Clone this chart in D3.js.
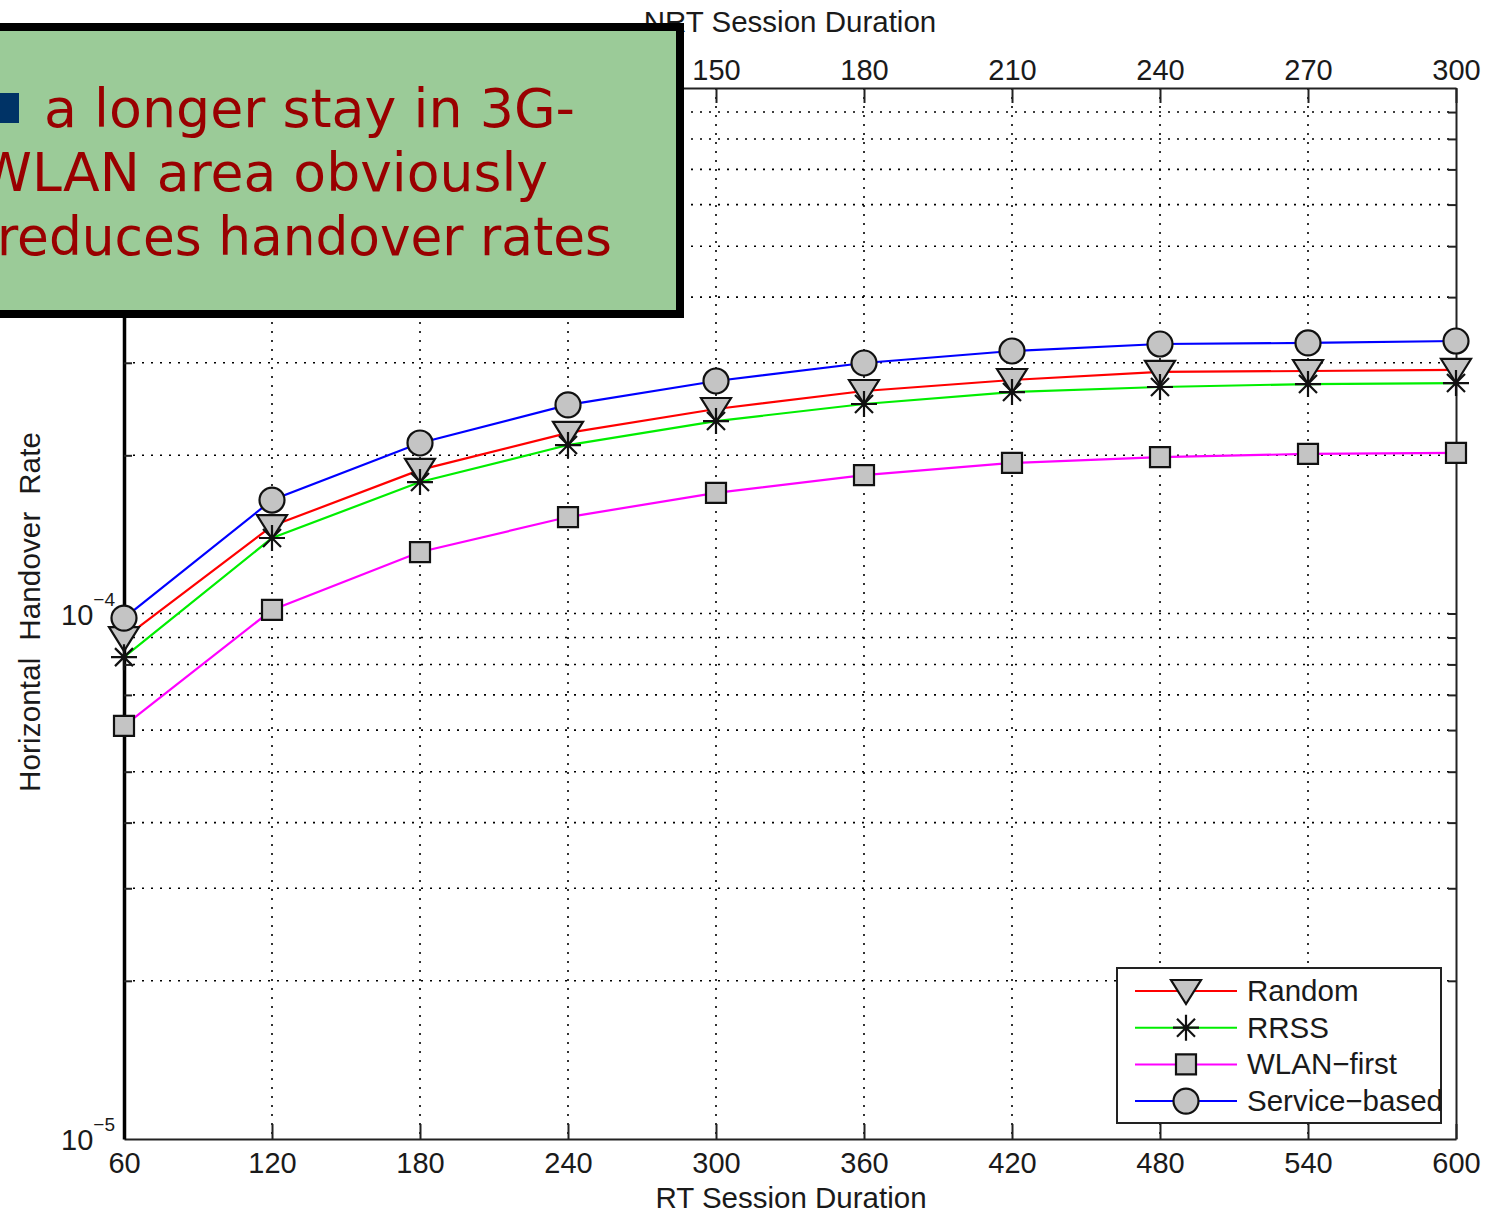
<!DOCTYPE html>
<html>
<head>
<meta charset="utf-8">
<script src="https://cdn.jsdelivr.net/npm/d3@7"></script>
<style>
  body { margin: 0; background: #fff; }
  svg { display: block; }
  .tick text { font-family: "Liberation Sans", Arial, sans-serif; }
</style>
</head>
<body>
<div id="chart"></div>
<script>
// values
var rtDuration = [60, 120, 180, 240, 300, 360, 420, 480, 540, 600]
var nrtDuration = [30, 60, 90, 120, 150, 180, 210, 240, 270, 300]
var randomRate = [8.98e-5, 1.467e-4, 1.876e-4, 2.206e-4, 2.450e-4, 2.651e-4, 2.782e-4, 2.882e-4, 2.894e-4, 2.907e-4]
var rrssRate = [8.26e-5, 1.392e-4, 1.779e-4, 2.092e-4, 2.324e-4, 2.504e-4, 2.639e-4, 2.698e-4, 2.733e-4, 2.745e-4]
var wlanFirstRate = [6.11e-5, 1.016e-4, 1.309e-4, 1.526e-4, 1.696e-4, 1.834e-4, 1.934e-4, 1.985e-4, 2.012e-4, 2.021e-4]
var serviceRate = [9.80e-5, 1.644e-4, 2.111e-4, 2.494e-4, 2.770e-4, 2.997e-4, 3.159e-4, 3.257e-4, 3.272e-4, 3.300e-4]
var seriesNames = ["Random", "RRSS", "WLAN\u2212first", "Service\u2212based"]
var yMajor = [1e-5, 1e-4]
var yMajorExp = ["\u22125", "\u22124"]
var yGrid = [2e-5, 3e-5, 4e-5, 5e-5, 6e-5, 7e-5, 8e-5, 9e-5, 1e-4, 2e-4, 3e-4, 4e-4, 5e-4, 6e-4, 7e-4, 8e-4, 9e-4]
var noteLines = ["a longer stay in 3G-", "WLAN area obviously", "reduces handover rates"]

var W = 1488, H = 1214
var plot = { left: 124, right: 1456, top: 88, bottom: 1139 }
var chartFont = '"Liberation Sans", Arial, sans-serif'

var x = d3.scaleLinear().domain([60, 600]).range([plot.left, plot.right])
var xTop = d3.scaleLinear().domain([30, 300]).range([plot.left, plot.right])
var y = d3.scaleLog().domain([1e-5, 1e-3]).range([plot.bottom, plot.top])

var svg = d3.select("#chart").append("svg")
  .attr("width", W)
  .attr("height", H)

// grid
var grid = svg.append("g")
  .attr("stroke", "#000")
  .attr("stroke-width", 1.6)
  .attr("stroke-dasharray", "2,7")
grid.selectAll("line.gx")
  .data(rtDuration.slice(1, -1))
  .enter().append("line")
  .attr("x1", function(d) { return x(d) })
  .attr("x2", function(d) { return x(d) })
  .attr("y1", plot.top)
  .attr("y2", plot.bottom)
grid.selectAll("line.gy")
  .data(yGrid)
  .enter().append("line")
  .attr("x1", plot.left)
  .attr("x2", plot.right)
  .attr("y1", function(d) { return y(d) })
  .attr("y2", function(d) { return y(d) })

// axes
function styleAxis(g) {
  g.selectAll("path, line").attr("stroke", "#222").attr("stroke-width", 2)
  g.selectAll("text").attr("fill", "#1a1a1a").style("font-size", "29px")
}

svg.append("g")
  .attr("transform", "translate(0," + plot.bottom + ")")
  .call(d3.axisBottom(x).tickValues(rtDuration).tickSize(-15).tickSizeOuter(0).tickPadding(10))
  .call(styleAxis)
  .selectAll("text").attr("dy", "0.82em")

svg.append("g")
  .attr("transform", "translate(0," + plot.top + ")")
  .call(d3.axisTop(xTop).tickValues(nrtDuration).tickSize(-15).tickSizeOuter(0).tickPadding(8))
  .call(styleAxis)

svg.append("g")
  .attr("transform", "translate(" + plot.right + ",0)")
  .call(d3.axisRight(y).tickValues(yGrid).tickSize(-8).tickSizeOuter(0).tickFormat(""))
  .call(styleAxis)

var leftAxis = svg.append("g")
  .attr("transform", "translate(" + plot.left + ",0)")
  .call(d3.axisLeft(y).tickValues(yGrid).tickSize(-8).tickSizeOuter(0).tickFormat(""))
  .call(styleAxis)
leftAxis.select("path").attr("stroke-width", 3.5).attr("stroke", "#000")

// decade labels 10^n
var decade = svg.append("g")
  .attr("font-family", chartFont)
  .attr("fill", "#1a1a1a")
  .selectAll("text")
  .data(yMajor)
  .enter().append("text")
  .attr("x", plot.left - 9)
  .attr("y", function(d) { return y(d) + 11 })
  .attr("text-anchor", "end")
  .style("font-size", "29px")
decade.append("tspan").text("10")
decade.append("tspan")
  .attr("dy", -19)
  .style("font-size", "19px")
  .text(function(d, i) { return yMajorExp[i] })

// axis titles
svg.append("text")
  .attr("x", 791)
  .attr("y", 1208)
  .attr("text-anchor", "middle")
  .attr("font-family", chartFont)
  .attr("fill", "#1a1a1a")
  .style("font-size", "29.5px")
  .text("RT Session Duration")

svg.append("text")
  .attr("x", 790)
  .attr("y", 32)
  .attr("text-anchor", "middle")
  .attr("font-family", chartFont)
  .attr("fill", "#1a1a1a")
  .style("font-size", "29.5px")
  .text("NRT Session Duration")

svg.append("text")
  .attr("transform", "translate(40,612) rotate(-90)")
  .attr("text-anchor", "middle")
  .attr("font-family", chartFont)
  .attr("fill", "#1a1a1a")
  .style("font-size", "29.5px")
  .style("white-space", "pre")
  .attr("xml:space", "preserve")
  .attr("textLength", 360)
  .text("Horizontal  Handover  Rate")

// markers
function markerPath(type) {
  if (type === "triangle") return "M-15,-11L15,-11L0,13Z"
  if (type === "square") return "M-10,-10L10,-10L10,10L-10,10Z"
  if (type === "star") return "M-13,0L13,0M0,-13L0,13M-9,-9L9,9M-9,9L9,-9"
  return d3.symbol().type(d3.symbolCircle).size(Math.PI * 12.5 * 12.5)()
}

var series = [
  { name: seriesNames[0], values: randomRate, color: "#ff0000", marker: "triangle" },
  { name: seriesNames[1], values: rrssRate, color: "#00ee00", marker: "star" },
  { name: seriesNames[2], values: wlanFirstRate, color: "#ff00ff", marker: "square" },
  { name: seriesNames[3], values: serviceRate, color: "#0000ff", marker: "circle" }
]

var line = d3.line()
  .x(function(d) { return x(d[0]) })
  .y(function(d) { return y(d[1]) })

function drawMarker(g, type) {
  g.append("path")
    .attr("d", markerPath(type))
    .attr("fill", type === "star" ? "none" : "#c4c4c4")
    .attr("stroke", "#111")
    .attr("stroke-width", 2.2)
}

series.forEach(function(s) {
  var pts = rtDuration.map(function(d, i) { return [d, s.values[i]] })
  svg.append("path")
    .datum(pts)
    .attr("d", line)
    .attr("fill", "none")
    .attr("stroke", s.color)
    .attr("stroke-width", 2.2)
  svg.append("g").selectAll("g")
    .data(pts)
    .enter().append("g")
    .attr("transform", function(d) { return "translate(" + x(d[0]) + "," + y(d[1]) + ")" })
    .each(function() { drawMarker(d3.select(this), s.marker) })
})

// legend
var legend = svg.append("g")
legend.append("rect")
  .attr("x", 1117)
  .attr("y", 968)
  .attr("width", 324)
  .attr("height", 155)
  .attr("fill", "#fff")
  .attr("stroke", "#222")
  .attr("stroke-width", 2)
var item = legend.selectAll("g.item")
  .data(series)
  .enter().append("g")
  .attr("transform", function(d, i) { return "translate(0," + (991 + i * 36.7) + ")" })
item.append("line")
  .attr("x1", 1135)
  .attr("x2", 1237)
  .attr("stroke", function(d) { return d.color })
  .attr("stroke-width", 2)
item.append("g")
  .attr("transform", "translate(1186,0)")
  .each(function(d) { drawMarker(d3.select(this), d.marker) })
item.append("text")
  .attr("x", 1247)
  .attr("y", 10)
  .attr("font-family", chartFont)
  .attr("fill", "#1a1a1a")
  .style("font-size", "29.5px")
  .text(function(d) { return d.name })

// green note box on top
var note = svg.append("g")
note.append("rect")
  .attr("x", -10)
  .attr("y", 27)
  .attr("width", 690)
  .attr("height", 287)
  .attr("fill", "#9bcb98")
  .attr("stroke", "#000")
  .attr("stroke-width", 8)
note.append("rect")
  .attr("x", -11)
  .attr("y", 93)
  .attr("width", 30)
  .attr("height", 30)
  .attr("fill", "#003366")
var noteX = [44, -21, -3]
var noteLen = [531, 569, 615]
note.selectAll("text")
  .data(noteLines)
  .enter().append("text")
  .attr("x", function(d, i) { return noteX[i] })
  .attr("y", function(d, i) { return 127 + i * 64 })
  .attr("textLength", function(d, i) { return noteLen[i] })
  .attr("lengthAdjust", "spacingAndGlyphs")
  .attr("font-family", '"DejaVu Sans", Verdana, sans-serif')
  .attr("fill", "#990000")
  .style("font-size", "54px")
  .text(function(d) { return d })
</script>
</body>
</html>
